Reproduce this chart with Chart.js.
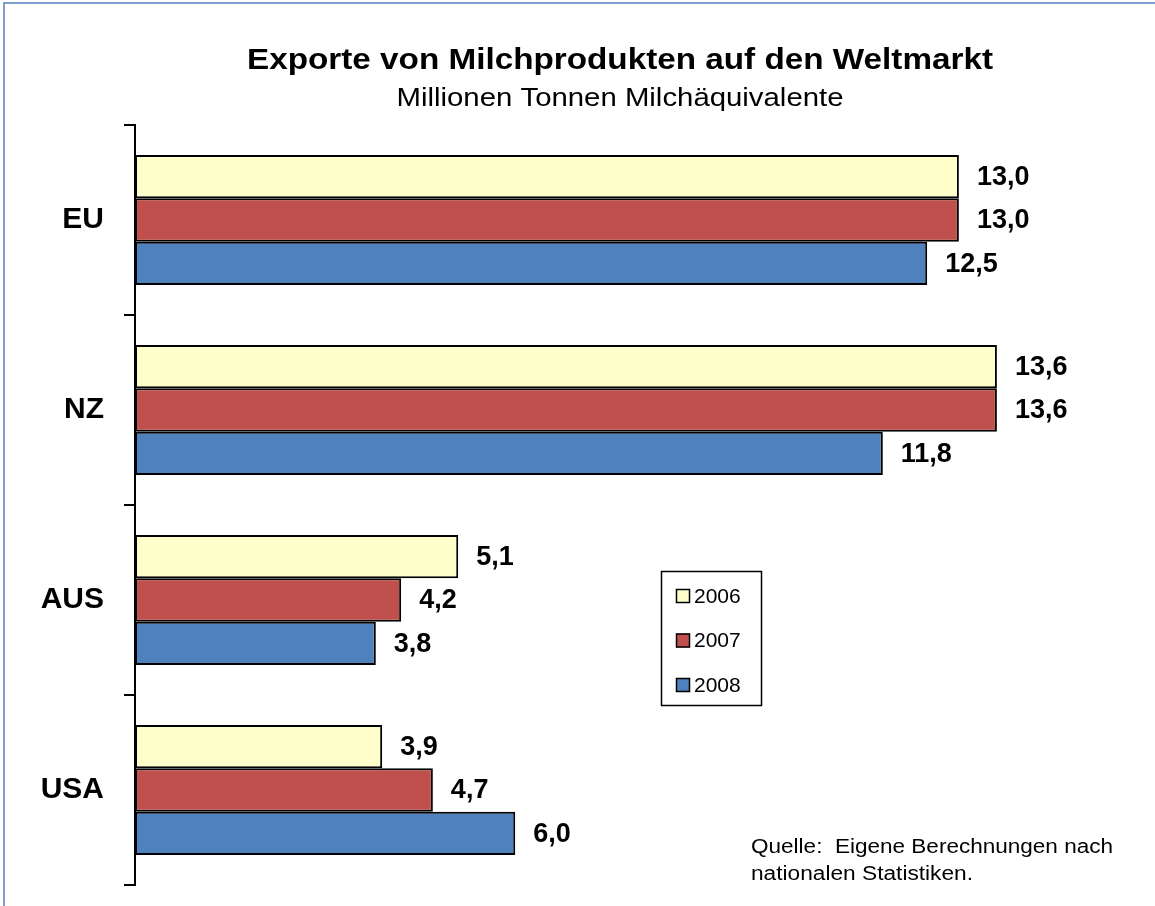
<!DOCTYPE html>
<html>
<head>
<meta charset="utf-8">
<script src="https://cdn.jsdelivr.net/npm/chart.js@4.4.1/dist/chart.umd.min.js"></script>
<style>
  html, body { margin: 0; padding: 0; background: #ffffff; }
  #wrap { position: relative; width: 1155px; height: 906px; overflow: hidden; background: #fff; }
  #frame { position: absolute; left: 3px; top: 2px; width: 1300px; height: 1100px; border: 2px solid #7E9FCD; box-sizing: border-box; pointer-events: none; }
  canvas { position: absolute; left: 0; top: 0; }
</style>
</head>
<body>
<div id="wrap">
  <canvas id="c" width="1155" height="906"></canvas>
  <div id="frame"></div>
</div>
<script>
// ---- data ----
const categories = ["EU", "NZ", "AUS", "USA"];
const seriesNames = ["2006", "2007", "2008"];
const values2006 = [13.0, 13.6, 5.1, 3.9];
const values2007 = [13.0, 13.6, 4.2, 4.7];
const values2008 = [12.5, 11.8, 3.8, 6.0];
const titleText = "Exporte von Milchprodukten auf den Weltmarkt";
const subtitleText = "Millionen Tonnen Milchäquivalente";
const sourceLines = ["Quelle:  Eigene Berechnungen nach", "nationalen Statistiken."];

const colors = ["#FFFFCC", "#C0504D", "#4F81BD"];

function fmt(v) { return v.toFixed(1).replace(".", ","); }

// draw text horizontally scaled to a target width
function drawFitted(ctx, text, font, x, y, targetW, align) {
  ctx.save();
  ctx.font = font;
  const w = ctx.measureText(text).width;
  const s = targetW / w;
  let left = x;
  if (align === "center") left = x - targetW / 2;
  ctx.translate(left, y);
  ctx.scale(s, 1);
  ctx.textAlign = "left";
  ctx.textBaseline = "alphabetic";
  ctx.fillStyle = "#000";
  ctx.fillText(text, 0, 0);
  ctx.restore();
}

const textPlugin = {
  id: "texts",
  afterDraw(chart) {
    const ctx = chart.ctx;
    drawFitted(ctx, titleText, "bold 30px 'Liberation Sans', Arial, sans-serif", 620, 69, 746, "center");
    drawFitted(ctx, subtitleText, "25px 'Liberation Sans', Arial, sans-serif", 620, 106, 447, "center");
    drawFitted(ctx, sourceLines[0], "20px 'Liberation Sans', Arial, sans-serif", 751, 853, 362, "left");
    drawFitted(ctx, sourceLines[1], "20px 'Liberation Sans', Arial, sans-serif", 751, 880, 222, "left");

    // legend
    ctx.save();
    ctx.strokeStyle = "#000";
    ctx.lineWidth = 1.5;
    ctx.strokeRect(661.5, 571.5, 100, 134);
    chart.data.datasets.forEach((ds, i) => {
      const cy = 596 + i * 44.5;
      ctx.fillStyle = ds.backgroundColor;
      ctx.fillRect(676, cy - 7, 14, 14);
      ctx.lineWidth = 1.5;
      ctx.strokeStyle = "#000";
      ctx.strokeRect(676.5, cy - 6.5, 13, 13);
      ctx.fillStyle = "#000";
      ctx.font = "21px 'Liberation Sans', Arial, sans-serif";
      ctx.textBaseline = "middle";
      ctx.textAlign = "left";
      ctx.fillText(ds.label, 694, cy + 1);
    });
    ctx.restore();
  }
};

const valueLabels = {
  id: "valueLabels",
  afterDatasetsDraw(chart) {
    const ctx = chart.ctx;
    ctx.save();
    ctx.font = "bold 27px 'Liberation Sans', Arial, sans-serif";
    ctx.fillStyle = "#000";
    ctx.textAlign = "left";
    ctx.textBaseline = "middle";
    chart.data.datasets.forEach((ds, di) => {
      const meta = chart.getDatasetMeta(di);
      meta.data.forEach((el, i) => {
        ctx.fillText(fmt(ds.data[i]), el.x + 18, el.y + 1);
      });
    });
    ctx.restore();
  }
};

new Chart(document.getElementById("c"), {
  type: "bar",
  data: {
    labels: categories,
    datasets: [
      { label: seriesNames[0], data: values2006, backgroundColor: colors[0] },
      { label: seriesNames[1], data: values2007, backgroundColor: colors[1] },
      { label: seriesNames[2], data: values2008, backgroundColor: colors[2] }
    ].map(d => Object.assign(d, {
      borderColor: "#000",
      borderWidth: 2,
      borderSkipped: false,
      categoryPercentage: 0.684,
      barPercentage: 1.0
    }))
  },
  options: {
    indexAxis: "y",
    responsive: false,
    animation: false,
    devicePixelRatio: 1,
    layout: { padding: { top: 125, bottom: 21, left: 0, right: 6 } },
    plugins: {
      legend: { display: false },
      title: { display: false },
      tooltip: { enabled: false }
    },
    scales: {
      x: { display: false, min: 0, max: 16 },
      y: {
        afterFit(scale) {
          scale.width = 135;
          scale.paddingTop = 0;
          scale.paddingBottom = 0;
        },
        grid: {
          offset: true,
          drawOnChartArea: false,
          drawTicks: true,
          tickLength: 11,
          color: "#000",
          lineWidth: 2
        },
        border: { display: true, color: "#000", width: 2 },
        ticks: {
          padding: 20,
          color: "#000",
          font: { family: "'Liberation Sans', Arial, sans-serif", size: 30, weight: "bold" }
        }
      }
    }
  },
  plugins: [valueLabels, textPlugin]
});
</script>
</body>
</html>
